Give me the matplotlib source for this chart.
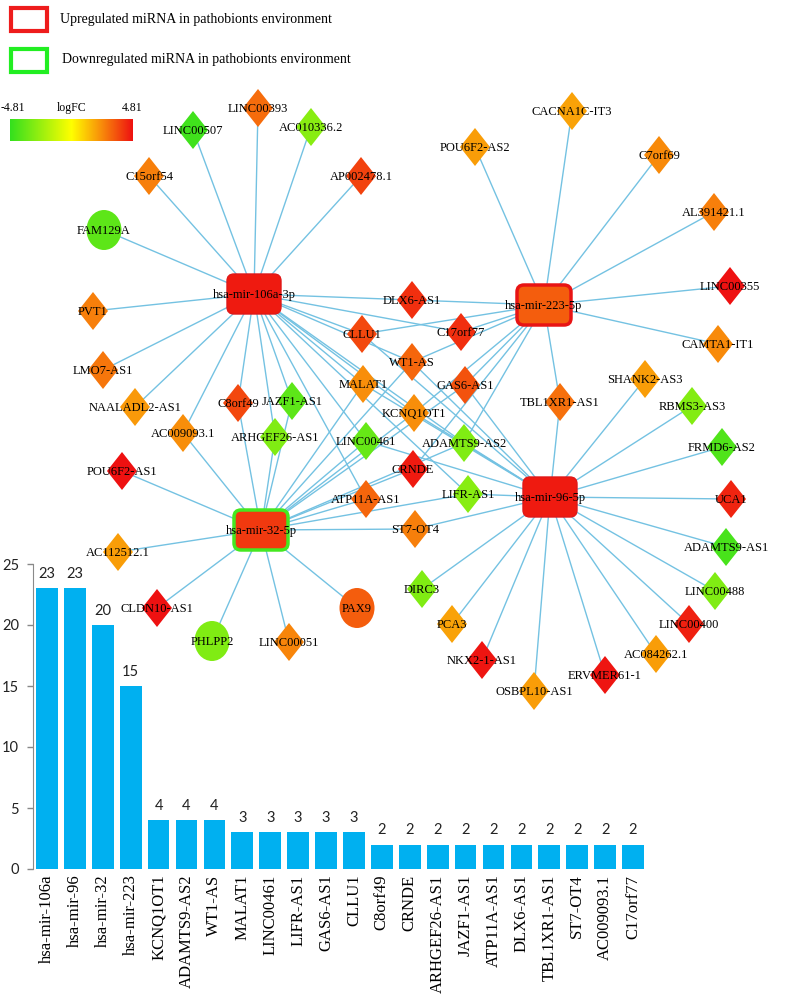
import numpy as np
import matplotlib
matplotlib.use("Agg")
from matplotlib import pyplot as plt
from matplotlib.patches import Polygon, Ellipse, FancyBboxPatch, Rectangle
from matplotlib.colors import LinearSegmentedColormap, Normalize

# ---- bar chart data ----
bar_labels = ["hsa-mir-106a", "hsa-mir-96", "hsa-mir-32", "hsa-mir-223", "KCNQ1OT1",
              "ADAMTS9-AS2", "WT1-AS", "MALAT1", "LINC00461", "LIFR-AS1", "GAS6-AS1",
              "CLLU1", "C8orf49", "CRNDE", "ARHGEF26-AS1", "JAZF1-AS1", "ATP11A-AS1",
              "DLX6-AS1", "TBL1XR1-AS1", "ST7-OT4", "AC009093.1", "C17orf77"]
bar_counts = [23, 23, 20, 15, 4, 4, 4, 3, 3, 3, 3, 3, 2, 2, 2, 2, 2, 2, 2, 2, 2, 2]

# ---- network data ----
hub_names = ["hsa-mir-106a-3p", "hsa-mir-223-5p", "hsa-mir-32-5p", "hsa-mir-96-5p"]
hub_logfc = [4.6, 3.3, 4.0, 4.6]
hub_regulation = ["up", "up", "down", "up"]

node_names = ["LINC00507", "LINC00393", "AC010336.2", "C15orf54", "AP002478.1", "FAM129A",
              "PVT1", "LMO7-AS1", "NAALADL2-AS1", "AC009093.1", "C8orf49", "JAZF1-AS1",
              "ARHGEF26-AS1", "LINC00461", "POU6F2-AS1", "AC112512.1", "CLDN10-AS1",
              "PHLPP2", "LINC00051", "PAX9", "DLX6-AS1", "CLLU1", "C17orf77", "WT1-AS",
              "MALAT1", "GAS6-AS1", "KCNQ1OT1", "ADAMTS9-AS2", "CRNDE", "LIFR-AS1",
              "ATP11A-AS1", "ST7-OT4", "TBL1XR1-AS1", "CACNA1C-IT3", "POU6F2-AS2",
              "C7orf69", "AL391421.1", "LINC00355", "CAMTA1-IT1", "SHANK2-AS3",
              "RBMS3-AS3", "FRMD6-AS2", "UCA1", "ADAMTS9-AS1", "LINC00488", "LINC00400",
              "AC084262.1", "ERVMER61-1", "OSBPL10-AS1", "NKX2-1-AS1", "PCA3", "DIRC3"]
node_logfc = [-4.5, 3.0, -2.8, 2.6, 3.8, -3.8,
              2.6, 2.8, 2.1, 2.3, 3.7, -3.8,
              -3.0, -3.6, 4.8, 2.0, 4.8,
              -3.0, 2.5, 3.3, 4.2, 3.7, 4.2, 3.1,
              2.3, 3.5, 2.3, -3.0, 4.6, -2.8,
              3.1, 2.6, 2.9, 1.9, 2.0,
              2.4, 2.6, 4.81, 2.4, 2.0,
              -2.9, -4.1, 4.4, -4.3, -3.0, 4.5,
              2.0, 4.7, 2.0, 4.7, 1.9, -3.0]
circle_nodes = ["FAM129A", "PHLPP2", "PAX9"]

targets_106a = ["LINC00507", "LINC00393", "AC010336.2", "C15orf54", "AP002478.1", "FAM129A",
                "PVT1", "LMO7-AS1", "NAALADL2-AS1", "KCNQ1OT1", "ADAMTS9-AS2", "WT1-AS",
                "DLX6-AS1", "C17orf77", "AC009093.1", "C8orf49", "JAZF1-AS1", "ARHGEF26-AS1",
                "ATP11A-AS1", "MALAT1", "LINC00461", "LIFR-AS1", "CLLU1"]
targets_223 = ["CACNA1C-IT3", "POU6F2-AS2", "C7orf69", "AL391421.1", "LINC00355", "CAMTA1-IT1",
               "KCNQ1OT1", "ADAMTS9-AS2", "WT1-AS", "DLX6-AS1", "C17orf77", "TBL1XR1-AS1",
               "CRNDE", "CLLU1", "GAS6-AS1"]
targets_32 = ["POU6F2-AS1", "AC112512.1", "CLDN10-AS1", "PHLPP2", "LINC00051", "PAX9",
              "KCNQ1OT1", "ADAMTS9-AS2", "WT1-AS", "ST7-OT4", "AC009093.1", "C8orf49",
              "JAZF1-AS1", "ARHGEF26-AS1", "ATP11A-AS1", "CRNDE", "MALAT1", "LINC00461",
              "LIFR-AS1", "GAS6-AS1"]
targets_96 = ["SHANK2-AS3", "RBMS3-AS3", "FRMD6-AS2", "UCA1", "ADAMTS9-AS1", "LINC00488",
              "LINC00400", "AC084262.1", "ERVMER61-1", "OSBPL10-AS1", "NKX2-1-AS1", "PCA3",
              "DIRC3", "KCNQ1OT1", "ADAMTS9-AS2", "WT1-AS", "TBL1XR1-AS1", "ST7-OT4",
              "MALAT1", "LINC00461", "LIFR-AS1", "GAS6-AS1", "CLLU1"]

# layout (pixel positions of the network drawing)
hub_pos = {"hsa-mir-106a-3p": (254, 294), "hsa-mir-223-5p": (544, 305),
           "hsa-mir-32-5p": (261, 530), "hsa-mir-96-5p": (550, 497)}
node_pos = {
    "LINC00507": (193, 130), "LINC00393": (258, 108), "AC010336.2": (311, 127),
    "C15orf54": (149, 176), "AP002478.1": (361, 176), "FAM129A": (104, 230),
    "PVT1": (93, 311), "LMO7-AS1": (103, 370), "NAALADL2-AS1": (135, 407),
    "AC009093.1": (183, 433), "C8orf49": (238, 403), "JAZF1-AS1": (292, 401),
    "ARHGEF26-AS1": (275, 437), "LINC00461": (366, 441), "POU6F2-AS1": (122, 471),
    "AC112512.1": (118, 552), "CLDN10-AS1": (157, 608), "PHLPP2": (212, 641),
    "LINC00051": (289, 642), "PAX9": (357, 608), "DLX6-AS1": (412, 300),
    "CLLU1": (362, 334), "C17orf77": (461, 332), "WT1-AS": (412, 362),
    "MALAT1": (363, 384), "GAS6-AS1": (465, 385), "KCNQ1OT1": (414, 413),
    "ADAMTS9-AS2": (464, 443), "CRNDE": (413, 469), "LIFR-AS1": (468, 494),
    "ATP11A-AS1": (366, 499), "ST7-OT4": (415, 529), "TBL1XR1-AS1": (560, 402),
    "CACNA1C-IT3": (572, 111), "POU6F2-AS2": (475, 147), "C7orf69": (659, 155),
    "AL391421.1": (714, 212), "LINC00355": (730, 286), "CAMTA1-IT1": (718, 344),
    "SHANK2-AS3": (645, 379), "RBMS3-AS3": (692, 406), "FRMD6-AS2": (722, 447),
    "UCA1": (731, 499), "ADAMTS9-AS1": (726, 547), "LINC00488": (715, 591),
    "LINC00400": (689, 624), "AC084262.1": (656, 654), "ERVMER61-1": (605, 675),
    "OSBPL10-AS1": (534, 691), "NKX2-1-AS1": (482, 660), "PCA3": (452, 624),
    "DIRC3": (422, 589)}

serif = "Liberation Serif"
edge_col = "#74c2e2"
bar_col = "#00b0f0"
cmap = LinearSegmentedColormap.from_list(
    "logfc", [(0, "#33e01e"), (0.5, "#ffff00"), (0.75, "#f88a0a"), (1, "#ee1111")])
norm = Normalize(-4.81, 4.81)

fig = plt.figure(figsize=(8, 10.07), dpi=100)
ax = fig.add_axes([0, 0, 1, 1])
ax.set_xlim(0, 800)
ax.set_ylim(1007, 0)
ax.axis("off")

# edges
for hub, tg in zip(hub_names, [targets_106a, targets_223, targets_32, targets_96]):
    hx, hy = hub_pos[hub]
    for t in tg:
        tx, ty = node_pos[t]
        ax.plot([hx, tx], [hy, ty], color=edge_col, lw=1.0, zorder=1)

# nodes
hw, hh = 15, 19
for name, v in zip(node_names, node_logfc):
    x, y = node_pos[name]
    c = cmap(norm(v))
    if name in circle_nodes:
        ax.add_patch(Ellipse((x, y), 35, 40, facecolor=c, edgecolor="none", zorder=2))
    else:
        ax.add_patch(Polygon([(x - hw, y), (x, y - hh), (x + hw, y), (x, y + hh)],
                             closed=True, facecolor=c, edgecolor="none", zorder=2))
    ax.text(x, y + 1, name, family=serif, fontsize=9, ha="center", va="center", zorder=3)

for name, v, reg in zip(hub_names, hub_logfc, hub_regulation):
    x, y = hub_pos[name]
    c = cmap(norm(v))
    if name == "hsa-mir-106a-3p" or name == "hsa-mir-96-5p":
        ec, lw = "#e01818", 1.0
    elif reg == "up":
        ec, lw = "#e81414", 2.5
    else:
        ec, lw = "#44e820", 2.5
    ax.add_patch(FancyBboxPatch((x - 24, y - 17), 48, 34,
                                boxstyle="round,pad=3,rounding_size=7",
                                facecolor=c, edgecolor=ec, lw=lw, zorder=2))
    ax.text(x, y + 1, name, family=serif, fontsize=9, ha="center", va="center", zorder=3)

# legend
ax.add_patch(Rectangle((11, 8), 36, 23, fill=False, edgecolor="#ee1c1c", lw=3))
ax.add_patch(Rectangle((11, 49), 36, 23, fill=False, edgecolor="#22ee22", lw=3))
ax.text(60, 20, "Upregulated miRNA in pathobionts environment", family=serif,
        fontsize=10, ha="left", va="center")
ax.text(62, 60, "Downregulated miRNA in pathobionts environment", family=serif,
        fontsize=10, ha="left", va="center")

# logFC colour scale
grad = np.linspace(-4.81, 4.81, 256).reshape(1, -1)
ax.imshow(grad, cmap=cmap, norm=norm, extent=[10, 133, 141, 119], aspect="auto", zorder=2)
ax.text(1, 108, "-4.81", family=serif, fontsize=8.5, ha="left", va="center")
ax.text(72, 108, "logFC", family=serif, fontsize=8.5, ha="center", va="center")
ax.text(142, 108, "4.81", family=serif, fontsize=8.5, ha="right", va="center")

# bar chart
bx = fig.add_axes([33 / 800, 138 / 1007, 614 / 800, 305 / 1007])
bx.patch.set_alpha(0)
pos = np.arange(len(bar_labels))
bars = bx.bar(pos, bar_counts, width=0.78, color=bar_col)
for p, v in zip(pos, bar_counts):
    bx.text(p, v + 0.6, str(v), ha="center", va="bottom", fontsize=10.5, family="Lato",
            color="#222222")
bx.set_xlim(-0.5, len(bar_labels) - 0.5)
bx.set_ylim(0, 25)
bx.set_yticks(range(0, 26, 5))
bx.tick_params(axis="y", length=4, width=1, color="#888888", pad=6, labelsize=10.5,
               labelcolor="#222222")
for lab in bx.get_yticklabels():
    lab.set_family("Lato")
bx.set_xticks(pos)
bx.set_xticklabels(bar_labels, rotation=90, family=serif, fontsize=12)
bx.tick_params(axis="x", length=0, pad=4)
for s in ["top", "right", "bottom"]:
    bx.spines[s].set_visible(False)
bx.spines["left"].set_color("#8a8a8a")

fig.savefig("out.png", dpi=100)
